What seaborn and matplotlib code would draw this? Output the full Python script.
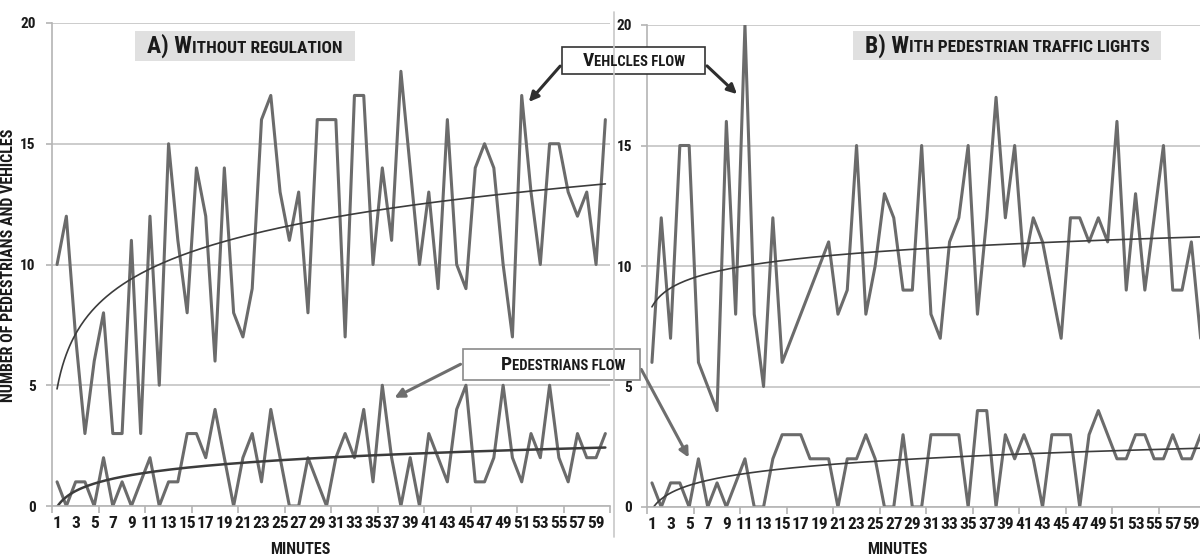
import numpy as np
import matplotlib
matplotlib.use("Agg")
import matplotlib.pyplot as plt
import seaborn as sns
from matplotlib.offsetbox import TextArea, HPacker, AnnotationBbox
from matplotlib.patches import Rectangle, FancyArrowPatch
from matplotlib.lines import Line2D

# data (counts per minute)
minutes = np.arange(1, 61)
tick_labels = [str(m) for m in minutes[::2]]

vehicles_a = [10, 12, 7, 3, 6, 8, 3, 3, 11, 3,
              12, 5, 15, 11, 8, 14, 12, 6, 14, 8,
              7, 9, 16, 17, 13, 11, 13, 8, 16, 16,
              16, 7, 17, 17, 10, 14, 11, 18, 14, 10,
              13, 9, 16, 10, 9, 14, 15, 14, 10, 7,
              17, 13, 10, 15, 15, 13, 12, 13, 10, 16]
pedestrians_a = [1, 0, 1, 1, 0, 2, 0, 1, 0, 1,
                 2, 0, 1, 1, 3, 3, 2, 4, 2, 0,
                 2, 3, 1, 4, 2, 0, 0, 2, 1, 0,
                 2, 3, 2, 4, 1, 5, 2, 0, 2, 0,
                 3, 2, 1, 4, 5, 1, 1, 2, 5, 2,
                 1, 3, 2, 5, 2, 1, 3, 2, 2, 3]
vehicles_b = [6, 12, 7, 15, 15, 6, 5, 4, 16, 8,
              20, 8, 5, 12, 6, 7, 8, 9, 10, 11,
              8, 9, 15, 8, 10, 13, 12, 9, 9, 15,
              8, 7, 11, 12, 15, 8, 12, 17, 12, 15,
              10, 12, 11, 9, 7, 12, 12, 11, 12, 11,
              16, 9, 13, 9, 12, 15, 9, 9, 11, 7]
pedestrians_b = [1, 0, 1, 1, 0, 2, 0, 1, 0, 1,
                 2, 0, 0, 2, 3, 3, 3, 2, 2, 2,
                 0, 2, 2, 3, 2, 0, 0, 3, 0, 0,
                 3, 3, 3, 3, 0, 4, 4, 0, 3, 2,
                 3, 2, 0, 3, 3, 3, 0, 3, 4, 3,
                 2, 2, 3, 3, 2, 2, 3, 2, 2, 3]

LINE = "#6b6b6b"
TREND = "#3c3c3c"
GRID = "#c4c4c4"
AXIS = "#b4b4b4"
TEXT = "#1a1a1a"

sns.set_theme(style="white")
plt.rcParams['font.family'] = ['Roboto Condensed', 'DejaVu Sans']
plt.rcParams['font.weight'] = 'bold'

W, H = 1200, 560
fig = plt.figure(figsize=(12, 5.6), dpi=100)


def fx(x):
    return x / W


def fy(y):
    return (H - y) / H


ax_a = fig.add_axes([fx(52.4), fy(506), 557.6 / W, 483 / H])
ax_b = fig.add_axes([fx(647.3), fy(507), 558 / W, 482 / H])


def style_axis(ax, ypad):
    ax.set_xlim(0.5, 60.5)
    ax.set_ylim(0, 20)
    ax.set_yticks([0, 5, 10, 15, 20])
    ax.yaxis.grid(True, color=GRID, lw=1.2)
    ax.xaxis.grid(False)
    ax.set_axisbelow(True)
    for s in ['top', 'right']:
        ax.spines[s].set_visible(False)
    for s in ['left', 'bottom']:
        ax.spines[s].set_color(AXIS)
        ax.spines[s].set_linewidth(1.2)
    ax.set_xticks(minutes[::2])
    ax.set_xticklabels(tick_labels)
    ax.set_xticks(np.arange(0.5, 61, 5), minor=True)
    ax.tick_params(axis='x', which='major', bottom=True, length=0, pad=7,
                   labelsize=12.5, labelcolor=TEXT)
    ax.tick_params(axis='x', which='minor', bottom=True, length=5,
                   color=AXIS, width=1.2)
    ax.tick_params(axis='y', left=True, length=4, color=AXIS, width=1.2,
                   pad=ypad, labelsize=11, labelcolor=TEXT)
    ax.set_xlabel("")
    ax.set_ylabel("")


def draw_panel(ax, veh, ped, ped_lw):
    sns.lineplot(x=minutes, y=veh, ax=ax, color=LINE, linewidth=2.2)
    sns.lineplot(x=minutes, y=ped, ax=ax, color=LINE, linewidth=2.2)
    xs = np.linspace(1, 60, 300)
    for series, lw in [(veh, 1.2), (ped, ped_lw)]:
        coef = np.polyfit(np.log(minutes), series, 1)
        ax.plot(xs, np.polyval(coef, np.log(xs)), color=TREND, lw=lw)


draw_panel(ax_a, vehicles_a, pedestrians_a, 1.8)
draw_panel(ax_b, vehicles_b, pedestrians_b, 1.2)
style_axis(ax_a, 8)
style_axis(ax_b, 7)

# separator between the two charts
fig.add_artist(Line2D([fx(614), fx(614)], [fy(12), fy(537)],
                      transform=fig.transFigure, color="#c8c8c8", lw=1.2))


def caps_text(x, y, big, small, big_size, small_size):
    parts = [TextArea(big, textprops=dict(size=big_size, weight='bold', color=TEXT)),
             TextArea(small, textprops=dict(size=small_size, weight='bold', color=TEXT))]
    pack = HPacker(children=parts, align="baseline", pad=0, sep=0)
    ab = AnnotationBbox(pack, (fx(x), fy(y)), xycoords='figure fraction',
                        box_alignment=(0.5, 0.5), frameon=False)
    fig.add_artist(ab)


def box(x0, y0, x1, y1, face, edge):
    fig.add_artist(Rectangle((fx(x0), fy(y1)), (x1 - x0) / W, (y1 - y0) / H,
                             transform=fig.transFigure, facecolor=face,
                             edgecolor=edge, lw=1.2))


def arrow(x0, y0, x1, y1, color):
    fig.add_artist(FancyArrowPatch((fx(x0), fy(y0)), (fx(x1), fy(y1)),
                                   transform=fig.transFigure, arrowstyle='-|>',
                                   mutation_scale=14, lw=2.2, color=color))


# panel titles
box(135, 31, 355, 61, "#e0e0e0", "none")
caps_text(245, 46, "A) W", "ITHOUT REGULATION", 17, 12.5)
box(853, 31, 1161, 60, "#e0e0e0", "none")
caps_text(1007, 45.5, "B) W", "ITH PEDESTRIAN TRAFFIC LIGHTS", 17, 12.5)

# callouts
arrow(562, 64, 527, 104, "#2e2e2e")
arrow(705, 64, 739, 96, "#2e2e2e")
box(562, 47, 705, 74, "white", "#333333")
caps_text(633.5, 60.5, "V", "EHLCLES FLOW", 14, 10.5)

arrow(463, 363, 392, 399, "#6e6e6e")
arrow(640, 367, 690, 460, "#6e6e6e")
box(463, 349, 640, 380, "white", "#8a8a8a")
caps_text(563, 364.5, "P", "EDESTRIANS FLOW", 14, 10.5)

# axis titles
fig.text(fx(9), fy(265), "NUMBER OF PEDESTRIANS AND VEHICLES", rotation=90,
         ha='center', va='center', fontsize=11.5, weight='bold', color=TEXT)
fig.text(fx(300), fy(550), "MINUTES", ha='center', va='center',
         fontsize=11.5, weight='bold', color=TEXT)
fig.text(fx(897), fy(550), "MINUTES", ha='center', va='center',
         fontsize=11.5, weight='bold', color=TEXT)

fig.savefig("out.png", dpi=100, facecolor="white")
